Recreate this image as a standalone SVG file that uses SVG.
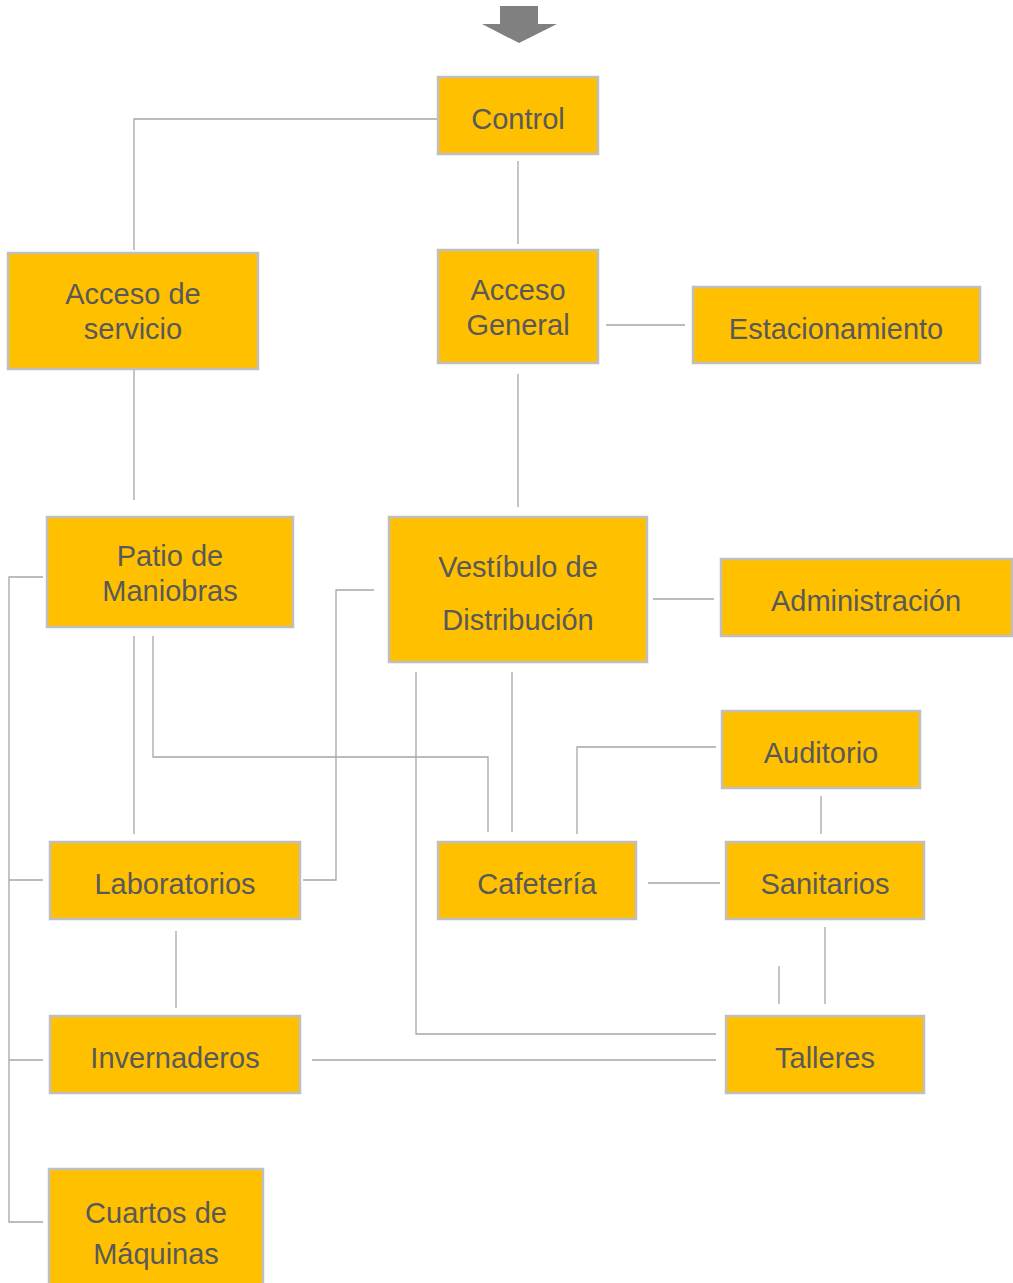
<svg xmlns="http://www.w3.org/2000/svg" width="1013" height="1283" viewBox="0 0 1013 1283">
  <style>
    .box { fill: #FFC000; stroke: #BFBFBF; stroke-width: 2.5; }
    .lbl { font-family: "Liberation Sans", Arial, sans-serif; font-size: 29px; fill: #595959; text-anchor: middle; }
    .conn { fill: none; stroke: #A6A6A6; stroke-width: 1.3; }
  </style>
  <rect width="1013" height="1283" fill="#FFFFFF"/>

  <!-- entry arrow -->
  <path d="M500,6 H538 V24 H557 L519,43 L482,24 H500 Z" fill="#808080"/>

  <g id="connectors">
    <path class="conn" d="M437,119 H134 V250"/>
    <path class="conn" d="M518,161 V244"/>
    <path class="conn" d="M606,325 H685"/>
    <path class="conn" d="M518,374 V507"/>
    <path class="conn" d="M134,370 V500"/>
    <path class="conn" d="M43,577 H9 V1222 H43"/>
    <path class="conn" d="M9,880 H43"/>
    <path class="conn" d="M9,1060 H43"/>
    <path class="conn" d="M134,636 V834"/>
    <path class="conn" d="M153,636 V757 H488 V832"/>
    <path class="conn" d="M374,590 H336 V880 H303"/>
    <path class="conn" d="M653,599 H714"/>
    <path class="conn" d="M512,672 V832"/>
    <path class="conn" d="M416,672 V1034 H716"/>
    <path class="conn" d="M716,747 H577 V834"/>
    <path class="conn" d="M821,796 V834"/>
    <path class="conn" d="M648,883 H720"/>
    <path class="conn" d="M825,927 V1004"/>
    <path class="conn" d="M779,966 V1004"/>
    <path class="conn" d="M312,1060 H716"/>
    <path class="conn" d="M176,931 V1008"/>
  </g>

  <g id="control">
    <rect class="box" x="438" y="77" width="160" height="77"/>
    <text class="lbl" x="518" y="129">Control</text>
  </g>
  <g id="acceso-servicio">
    <rect class="box" x="8" y="253" width="250" height="116"/>
    <text class="lbl" x="133" y="304">Acceso de</text>
    <text class="lbl" x="133" y="339">servicio</text>
  </g>
  <g id="acceso-general">
    <rect class="box" x="438" y="250" width="160" height="113"/>
    <text class="lbl" x="518" y="300">Acceso</text>
    <text class="lbl" x="518" y="335">General</text>
  </g>
  <g id="estacionamiento">
    <rect class="box" x="693" y="287" width="287" height="76"/>
    <text class="lbl" x="836" y="339">Estacionamiento</text>
  </g>
  <g id="patio-maniobras">
    <rect class="box" x="47" y="517" width="246" height="110"/>
    <text class="lbl" x="170" y="566">Patio de</text>
    <text class="lbl" x="170" y="601">Maniobras</text>
  </g>
  <g id="vestibulo">
    <rect class="box" x="389" y="517" width="258" height="145"/>
    <text class="lbl" x="518" y="577">Vestíbulo de</text>
    <text class="lbl" x="518" y="630">Distribución</text>
  </g>
  <g id="administracion">
    <rect class="box" x="721" y="559" width="291" height="77"/>
    <text class="lbl" x="866" y="611">Administración</text>
  </g>
  <g id="auditorio">
    <rect class="box" x="722" y="711" width="198" height="77"/>
    <text class="lbl" x="821" y="763">Auditorio</text>
  </g>
  <g id="laboratorios">
    <rect class="box" x="50" y="842" width="250" height="77"/>
    <text class="lbl" x="175" y="894">Laboratorios</text>
  </g>
  <g id="cafeteria">
    <rect class="box" x="438" y="842" width="198" height="77"/>
    <text class="lbl" x="537" y="894">Cafetería</text>
  </g>
  <g id="sanitarios">
    <rect class="box" x="726" y="842" width="198" height="77"/>
    <text class="lbl" x="825" y="894">Sanitarios</text>
  </g>
  <g id="invernaderos">
    <rect class="box" x="50" y="1016" width="250" height="77"/>
    <text class="lbl" x="175" y="1068">Invernaderos</text>
  </g>
  <g id="talleres">
    <rect class="box" x="726" y="1016" width="198" height="77"/>
    <text class="lbl" x="825" y="1068">Talleres</text>
  </g>
  <g id="cuartos-maquinas">
    <rect class="box" x="49" y="1169" width="214" height="130"/>
    <text class="lbl" x="156" y="1223">Cuartos de</text>
    <text class="lbl" x="156" y="1264">Máquinas</text>
  </g>
</svg>
